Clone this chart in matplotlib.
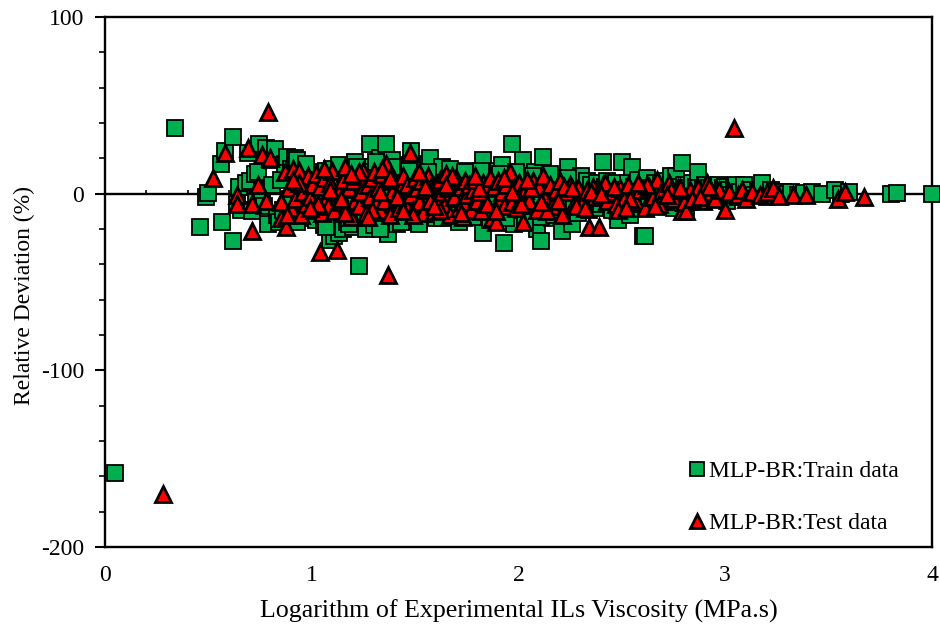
import matplotlib
matplotlib.use("Agg")  # headless backend
import matplotlib.pyplot as plt
from matplotlib.ticker import MultipleLocator

# values, x and y rows line up
train_x = [
    0.05, 0.34, 0.46, 0.49, 0.50, 0.565, 0.56, 0.58, 0.62, 0.62, 0.64, 0.65, 0.66, 0.68, 0.69,
    0.70, 0.71, 0.725, 0.73, 0.74, 0.745, 0.76, 0.77, 0.78, 0.79, 0.80, 0.81, 0.82, 0.83, 0.84,
    0.85, 0.86, 0.87, 0.88, 0.89, 0.90, 0.91, 0.92, 0.93, 0.94, 0.95, 0.96, 0.97, 0.98, 0.99,
    1.00, 1.01, 1.02, 1.03, 1.05, 1.06, 1.07, 1.08, 1.09, 1.10, 1.11, 1.12, 1.13, 1.14, 1.15,
    1.16, 1.17, 1.18, 1.19, 1.20, 1.21, 1.22, 1.23, 1.24, 1.25, 1.26, 1.27, 1.28, 1.29, 1.30,
    1.31, 1.32, 1.33, 1.34, 1.35, 1.36, 1.37, 1.38, 1.39, 1.40, 1.41, 1.42, 1.43, 1.44, 1.45,
    1.46, 1.47, 1.48, 1.49, 1.50, 1.51, 1.52, 1.53, 1.54, 1.55, 1.56, 1.57, 1.58, 1.59, 1.60,
    1.61, 1.62, 1.63, 1.64, 1.65, 1.66, 1.67, 1.68, 1.69, 1.70, 1.71, 1.72, 1.73, 1.74, 1.75,
    1.76, 1.77, 1.78, 1.79, 1.80, 1.81, 1.82, 1.83, 1.83, 1.84, 1.85, 1.86, 1.87, 1.88, 1.89,
    1.90, 1.91, 1.92, 1.93, 1.94, 1.95, 1.96, 1.97, 1.98, 1.99, 2.00, 2.01, 2.02, 2.03, 2.04,
    2.05, 2.06, 2.07, 2.08, 2.09, 2.10, 2.11, 2.12, 2.13, 2.14, 2.15, 2.16, 2.17, 2.18, 2.19,
    2.20, 2.21, 2.22, 2.23, 2.24, 2.25, 2.26, 2.27, 2.28, 2.29, 2.30, 2.31, 2.32, 2.33, 2.34,
    2.35, 2.36, 2.37, 2.38, 2.39, 2.40, 2.41, 2.42, 2.43, 2.44, 2.45, 2.46, 2.47, 2.48, 2.49,
    2.50, 2.51, 2.52, 2.53, 2.54, 2.55, 2.56, 2.57, 2.58, 2.59, 2.60, 2.61, 2.62, 2.63, 2.64,
    2.65, 2.66, 2.67, 2.68, 2.69, 2.70, 2.71, 2.72, 2.73, 2.74, 2.75, 2.76, 2.77, 2.78, 2.79,
    2.80, 2.81, 2.82, 2.83, 2.84, 2.85, 2.86, 2.87, 2.88, 2.89, 2.90, 2.91, 2.92, 2.93, 2.94,
    2.95, 2.96, 2.97, 2.98, 2.99, 3.00, 3.01, 3.02, 3.03, 3.04, 3.05, 3.06, 3.07, 3.09, 3.10,
    3.12, 3.14, 3.16, 3.18, 3.20, 3.22, 3.24, 3.26, 3.28, 3.30, 3.32, 3.35, 3.38, 3.42, 3.47,
    3.53, 3.56, 3.60, 3.80, 3.83, 4.00,
    0.93, 1.07, 1.18, 1.26, 1.33, 1.43, 1.52, 1.63, 1.71, 1.78, 1.86, 1.94, 2.03, 2.11, 2.17,
    0.97, 1.13, 1.22, 1.31, 1.39, 1.47, 1.56, 1.67, 1.74, 1.82, 1.91, 1.99, 2.07, 2.15, 2.24,
]
train_y = [
    -158, 37, -19, -2, 0.5, -16, 17, 24, -27, 32, -6, 4, -9, 6, 23,
    7, -10, 11, -4, 12, 28, 2, -7, 26, -17, 19, 5, 25, -12, -16,
    8, -9, 17, 21, -3, 14, -13, 20, 19, -6, 10, -14, 15, -11, 6,
    -8, 12, -15, 4, -5, -18, 13, -16, -26, 14, -24, -2, -22, 7, -20,
    11, -16, -7, 5, -19, 18, -12, -41, 2, 9, -20, -4, 28, 15, -18,
    7, -14, 20, -3, 12, 28, -23, 4, 19, -10, -17, 6, 13, -8, -16,
    2, 16, 24, -13, 9, -5, -15, 14, 3, -11, 17, 20, -7, 5, -14,
    10, -9, 15, -3, -13, 6, 12, -6, 1, -12, 8, 11, -4, 13, -10,
    3, -8, 9, -12, 5, -2, 12, 19, -22, -9, 7, -14, 2, 10, -6,
    13, -11, 16, -28, 4, -7, 9, 28, -17, -3, 11, -9, 19, 6, -12,
    2, 8, -6, 12, -20, 5, -27, 21, -10, 7, -3, -14, 9, 1, -8,
    6, -21, -5, 3, 15, 8, -17, -7, 4, -11, 10, 2, -4, 7, -9,
    5, -2, -8, 6, 1, -6, 18, 4, 7, -3, -9, 3, 6, -15, -5,
    18, 2, -7, 6, -12, 15, 4, -3, 8, -6, -24, -24, 9, -5, 3,
    -4, 6, 1, -7, 5, 3, -6, 7, -2, 10, -8, 10, 4, -3, 17.5,
    5, -8, 3, -5, 6, -2, 4, 12, -4, 2, 5, -3, 3, -1, 4,
    -3, 1, 5, -2, 3, 4, -4, 2, -1, 3, 5, -2, 1, 5, -2,
    2, -1, 1, 6, -2, 2, 1, -1, 1, 0, 1, -0.5, 0.5, 1, 0,
    2, 0, 1, 0, 0.5, 0,
    -16, -19, -17, 12, -20, -16, -17, -14, -16, -13, -15, -14, -16, -13, -12,
    17, 16, 15, 18, 15, 13, 12, 14, 12, 13, 11, 12, 10, 11, 9,
]

test_x = [
    0.28, 0.52, 0.58, 0.64, 0.64, 0.69, 0.71, 0.71, 0.74, 0.76, 0.78, 0.79, 0.80, 0.85, 0.85,
    0.875, 0.87, 0.89, 0.90, 0.91, 0.92, 0.93, 0.94, 0.95, 0.96, 0.97, 0.98, 0.99, 1.00, 1.01,
    1.02, 1.04, 1.04, 1.05, 1.06, 1.07, 1.08, 1.09, 1.10, 1.11, 1.12, 1.13, 1.14, 1.15, 1.16,
    1.17, 1.18, 1.19, 1.20, 1.21, 1.22, 1.23, 1.24, 1.25, 1.26, 1.27, 1.28, 1.29, 1.30, 1.31,
    1.32, 1.33, 1.34, 1.35, 1.36, 1.37, 1.37, 1.38, 1.39, 1.40, 1.41, 1.42, 1.43, 1.44, 1.45,
    1.46, 1.475, 1.48, 1.49, 1.50, 1.51, 1.52, 1.53, 1.54, 1.55, 1.56, 1.57, 1.58, 1.59, 1.60,
    1.61, 1.62, 1.63, 1.64, 1.65, 1.66, 1.67, 1.68, 1.69, 1.70, 1.71, 1.72, 1.73, 1.74, 1.75,
    1.76, 1.77, 1.78, 1.79, 1.80, 1.81, 1.82, 1.83, 1.84, 1.85, 1.86, 1.87, 1.88, 1.89, 1.90,
    1.91, 1.92, 1.93, 1.94, 1.96, 1.97, 1.98, 1.99, 2.00, 2.02, 2.03, 2.05, 2.07, 2.09, 2.10,
    2.12, 2.13, 2.15, 2.16, 2.18, 2.20, 2.21, 2.23, 2.25, 2.27, 2.29, 2.31, 2.33, 2.34, 2.36,
    2.37, 2.39, 2.41, 2.43, 2.45, 2.47, 2.49, 2.51, 2.53, 2.55, 2.57, 2.59, 2.61, 2.63, 2.65,
    2.67, 2.69, 2.71, 2.73, 2.75, 2.77, 2.79, 2.80, 2.81, 2.83, 2.85, 2.87, 2.89, 2.91, 2.93,
    2.95, 2.97, 3.00, 3.02, 3.04, 3.06, 3.08, 3.10, 3.13, 3.17, 3.20, 3.23, 3.26, 3.33, 3.39,
    3.545, 3.58, 3.67,
    0.88, 0.94, 1.03, 1.09, 1.16, 1.23, 1.29, 1.34, 1.41, 1.49, 1.55, 1.62, 1.68, 1.73, 1.81,
    0.91, 0.99, 1.06, 1.14, 1.19, 1.27, 1.33, 1.38, 1.44, 1.52, 1.59, 1.65, 1.72, 1.79, 1.85,
    1.93, 2.01, 2.06, 2.14, 2.22, 2.28, 2.35, 2.42, 2.48, 2.54, 2.62, 2.68, 2.74, 2.84, 2.92,
    1.89, 1.97, 2.04, 2.11, 2.19, 2.26, 2.32, 2.40, 2.46, 2.52, 2.58, 2.66, 2.72, 2.78, 2.88,
]
test_y = [
    -170, 9, 23, -1, -6, 26, -21, -6, 5, 22, -4, 46, 20, -14, -5,
    -19, 12, 3, -8, 14, -3, 7, 13, -12, 1, -6, 10, -2, 5, -9,
    11, -33, 4, -11, 9, -3, -7, 6, 13, -10, -32, 1, -5, 8, 15,
    -9, 3, -13, 7, -4, 10, -7, 1, 13, -11, 5, -2, 9, 12, -6,
    3, -9, 11, -4, 17, -46, 7, -12, 1, 8, -3, -8, 4, 10, -6,
    5, 23, -1, -9, 9, 3, -5, 7, -11, 2, 10, -4, 5, -10, 6,
    -3, 8, 1, -7, 11, 3, -12, 6, -2, 9, -8, 4, -5, 7, -1,
    5, -9, 2, 8, -4, 1, -10, 6, 3, -6, 9, -14, 4, -16, 7,
    -3, 1, -7, 5, 12, -5, 3, -8, 6, -16, 2, -4, 7, -9, 4,
    10, -3, 5, -7, 2, 7, -12, 1, 5, -6, 3, -4, 2, -19, 4,
    -2, -19, 5, -4, 1, -6, 3, -3, 5, -1, -5, 2, -8, 4, -2,
    8, 1, -4, 6, -3, 3, -10, -5, -10, 2, -2, 3, -4, 6, 1,
    -3, 2, -9, 1, 37, -1, 2, -3, 1, -1, 1, 3, -1.5, -1, -1,
    -3, 1, -2,
    -12, 6, -6, 2, -11, 12, -9, 14, -2, -12, 4, -9, 10, -13, 3,
    8, -8, 14, -3, 11, -13, 1, 9, -10, 12, -7, 5, -11, 10, -6,
    9, -6, 3, -10, 4, -7, 1, 6, -9, -3, 5, -6, 2, -3, 4,
    -10, 1, 8, -5, -4, 3, -8, 0, 4, -8, 6, -7, -1, 3, -2,
]

x_ticks = [0, 1, 2, 3, 4]
y_ticks = [-200, -100, 0, 100]
legend_names = ["MLP-BR:Train data", "MLP-BR:Test data"]

plt.rcParams["font.family"] = ["Liberation Serif", "DejaVu Serif"]
plt.rcParams["font.size"] = 17
plt.rcParams["axes.unicode_minus"] = False

fig = plt.figure(figsize=(9.4, 6.29), dpi=100)
ax = fig.add_axes([105 / 940, 1 - 547 / 629, 827 / 940, 530 / 629])

ax.plot(train_x, train_y, ls="none", marker="s", ms=11, mfc="#00b050", mec="black",
        mew=1.3, clip_on=False, zorder=3, label=legend_names[0])
ax.plot(test_x, test_y, ls="none", marker="^", ms=12, mfc="#ff0000", mec="black",
        mew=2, clip_on=False, zorder=4, label=legend_names[1])

ax.set_xlim(0, 4)
ax.set_ylim(-200, 100)
ax.set_xticks(x_ticks)
ax.set_yticks(y_ticks)
ax.yaxis.set_minor_locator(MultipleLocator(20))
ax.tick_params(axis="x", length=0, pad=13)
ax.tick_params(axis="y", which="major", direction="out", length=7, width=1.5, pad=8)
ax.tick_params(axis="y", which="minor", direction="out", length=4, width=1.2)
for spine in ax.spines.values():
    spine.set_linewidth(1.7)

# the zero line carries the little x ticks, the labels stay at the bottom
zero_axis = ax.secondary_xaxis(200 / 300)
zero_axis.set_zorder(2)
for spine in zero_axis.spines.values():
    spine.set_linewidth(1.7)
zero_axis.set_xticks(x_ticks)
zero_axis.set_xticklabels([])
zero_axis.xaxis.set_minor_locator(MultipleLocator(0.2))
zero_axis.tick_params(axis="x", which="both", direction="out", length=3, width=1.2)

ax.set_xlabel("Logarithm of Experimental ILs Viscosity (MPa.s)", fontsize=18.7, labelpad=10)
ax.set_ylabel("Relative Deviation (%)", fontsize=17, labelpad=4, y=0.474)

ax.legend(loc="lower right", bbox_to_anchor=(0.985, -0.016), frameon=False, fontsize=17,
          handlelength=0.9, handletextpad=0.05, labelspacing=1.3, markerscale=0.88, numpoints=1)

fig.savefig("out.png", dpi=100)
plt.close(fig)
